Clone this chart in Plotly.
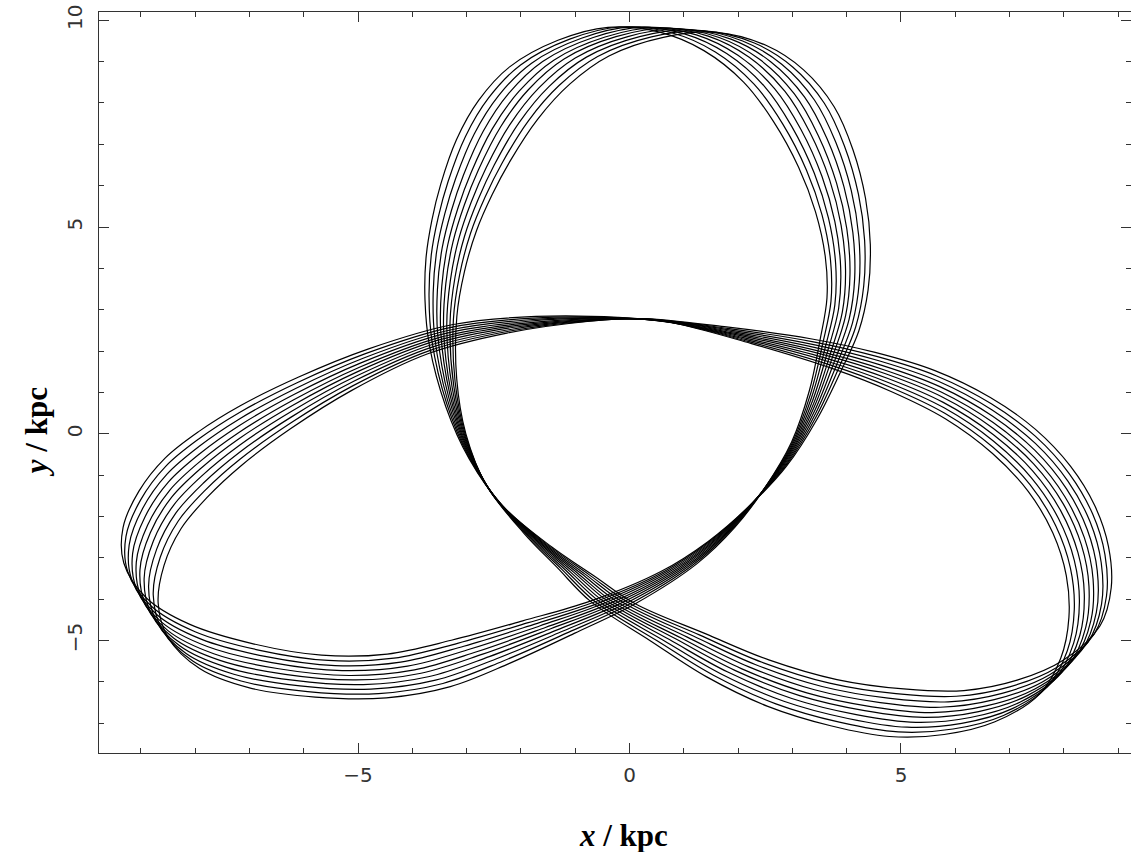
import numpy as np
import plotly.graph_objects as go

# Path of one loop of the orbit in the rotating frame (kpc),
# starting at the upper apocentre and running anticlockwise.
ORBIT_X = [0.6, -0.35, -1.3, -1.95, -2.45, -2.85, -3.1, -3.3, -3.42, -3.45,
           -3.3, -3.0, -2.5, -1.7, -1.0, -0.31, 0.9, 2.0, 3.2, 4.4,
           5.5, 6.5, 7.4, 8.15, 8.45, 8.5, 8.35, 8.0, 7.45, 6.7,
           5.75, 4.7, 3.55, 2.0, 0.5, -0.5, -2.0, -3.5, -5.0, -6.2,
           -7.2, -7.9, -8.45, -8.85, -9.05, -8.95, -8.45, -7.6, -6.4, -5.1,
           -3.9, -2.76, -1.5, -0.31, 0.92, 1.7, 2.35, 2.95, 3.4, 3.72,
           3.95, 4.02, 3.95, 3.75, 3.4, 2.95, 2.3, 1.55, 0.6]
ORBIT_Y = [9.82, 9.6, 9.05, 8.3, 7.4, 6.35, 5.5, 4.6, 3.6, 2.5,
           1.0, -0.3, -1.5, -2.58, -3.35, -4.1, -4.95, -5.7, -6.3, -6.65,
           -6.8, -6.65, -6.25, -5.5, -4.6, -3.6, -2.6, -1.6, -0.65, 0.2,
           0.95, 1.5, 1.95, 2.4, 2.75, 2.78, 2.65, 2.3, 1.55, 0.75,
           -0.05, -0.75, -1.45, -2.3, -3.2, -4.05, -4.85, -5.4, -5.75, -5.9,
           -5.75, -5.3, -4.7, -4.1, -3.25, -2.45, -1.55, -0.5, 0.7, 1.9,
           2.9, 3.9, 5.0, 6.1, 7.25, 8.25, 9.08, 9.6, 9.82]

# Precession of each successive loop about the centre (degrees)
LOOP_ANGLE_DEG = [-5.8, -4.5, -3.2, -1.9, -0.6, 0.6, 1.9, 3.2, 4.5, 5.8]

bx = np.array(ORBIT_X)
by = np.array(ORBIT_Y)

fig = go.Figure()
for ang in LOOP_ANGLE_DEG:
    a = np.deg2rad(ang)
    lx = bx * np.cos(a) - by * np.sin(a)
    ly = bx * np.sin(a) + by * np.cos(a)
    fig.add_trace(go.Scatter(
        x=lx, y=ly, mode="lines",
        line=dict(color="black", width=1.2, shape="spline", smoothing=1.0),
        hoverinfo="skip",
    ))

frame = "#333333"
tickfont = dict(family="DejaVu Sans", size=20, color="#333333")
common = dict(
    showline=True, linecolor=frame, linewidth=1, mirror="allticks",
    ticks="inside", ticklen=10, tickcolor=frame, tickwidth=1,
    minor=dict(dtick=1, ticks="inside", ticklen=5, tickcolor=frame, tickwidth=1),
    showgrid=False, zeroline=False, tickfont=tickfont, dtick=5, tick0=0,
)
fig.update_xaxes(range=[-9.77, 9.236], ticklabelstandoff=4, **common)
fig.update_yaxes(range=[-7.72, 10.2], tickangle=-90, ticklabelstandoff=8, **common)

fig.update_layout(
    width=1131, height=852,
    margin=dict(l=99, r=0, t=12, b=99),
    plot_bgcolor="white", paper_bgcolor="white",
    showlegend=False,
    annotations=[
        dict(text="<b><i>x</i> / kpc</b>", xref="paper", yref="paper",
             x=0.508, y=-0.112, xanchor="center", yanchor="middle",
             showarrow=False,
             font=dict(family="Liberation Serif", size=31, color="black")),
        dict(text="<b><i>y</i> / kpc</b>", xref="paper", yref="paper",
             x=-0.061, y=0.433, xanchor="center", yanchor="middle",
             textangle=-90, showarrow=False,
             font=dict(family="Liberation Serif", size=31, color="black")),
    ],
)

fig.write_html("out.html")
